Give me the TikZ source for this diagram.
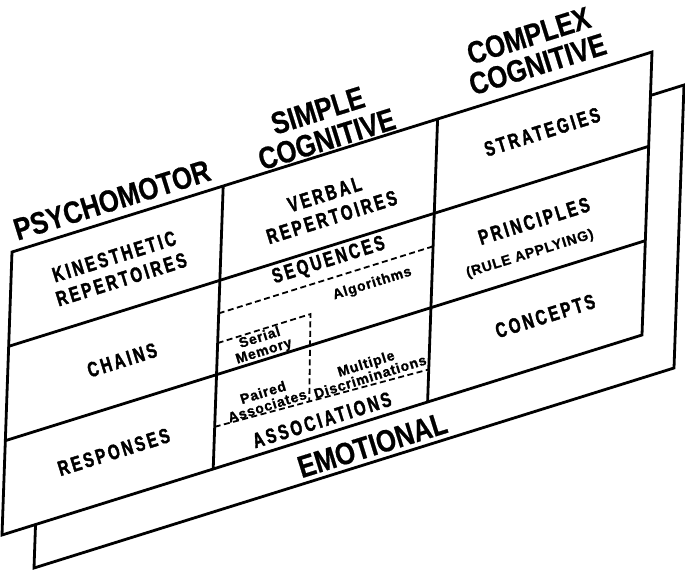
\documentclass[tikz,border=0pt]{standalone}
\usepackage{fontspec}
\newfontfamily\headfont[FakeStretch=0.83,BoldFeatures={FakeBold=0.6}]{Liberation Sans}
\newfontfamily\cellfont[FakeStretch=0.72,LetterSpace=13,BoldFeatures={FakeBold=1.8}]{Liberation Sans}
\newfontfamily\smallfont[LetterSpace=6,BoldFeatures={FakeBold=1.2}]{Liberation Sans}
\usetikzlibrary{calc}

\tikzset{
  head/.style={font=\headfont\bfseries\fontsize{31}{30}\selectfont, align=center, rotate=17.35, inner sep=0pt},
  cell/.style={font=\cellfont\bfseries\fontsize{21}{24}\selectfont, align=center, rotate=17.35, inner sep=0pt},
  tiny/.style={font=\smallfont\bfseries\fontsize{14}{14}\selectfont, align=center, rotate=17.35, inner sep=0pt},
  plane/.style={draw, line width=2.8pt, fill=white},
  grid/.style={line width=2.8pt},
  split/.style={line width=1.8pt, dash pattern=on 6pt off 3.5pt}
}

\begin{document}
\begin{tikzpicture}[x=1pt, y=1pt]
\useasboundingbox (0,0) rectangle (685,-573);

%emotional plane, behind
\begin{scope}[shift={(44,-285)}, x={(640pt,200pt)}, y={(-10pt,-283pt)}]
  \path (0,0) coordinate (eTL) (1,0) coordinate (eTR) (1,1) coordinate (eBR) (0,1) coordinate (eBL);
  \draw[plane] (eTL) -- (eTR) -- (eBR) -- (eBL) -- cycle;
\end{scope}

%front plane
\begin{scope}[shift={(12,-252)}, x={(640pt,200pt)}, y={(-10pt,-283pt)}]
  \path (0,0) coordinate (TL) (1,0) coordinate (TR) (1,1) coordinate (BR) (0,1) coordinate (BL);
  \draw[plane] (TL) -- (TR) -- (BR) -- (BL) -- cycle;
  \path (0.33,0) coordinate (A1) (0.33,1) coordinate (A2);
  \path (0.665,0) coordinate (B1) (0.665,1) coordinate (B2);
  \draw[grid] (A1) -- (A2);
  \draw[grid] (B1) -- (B2);
  \path (0,1/3) coordinate (R1) (1,1/3) coordinate (S1);
  \path (0,2/3) coordinate (R2) (1,2/3) coordinate (S2);
  \draw[grid] (R1) -- (S1);
  \draw[grid] (R2) -- (S2);

  %simple cognitive subdivisions
  \path (0.33,0.45) coordinate (Q1) (0.665,0.45) coordinate (Q2);
  \draw[split] (Q1) -- (Q2);
  \path (0.33,0.555) coordinate (M1) (0.475,0.555) coordinate (M2) (0.478,0.866) coordinate (M3);
  \draw[split] (M1) -- (M2) -- (M3);
  \path (0.33,0.851) coordinate (P1) (0.665,0.885) coordinate (P2);
  \draw[split] (P1) -- (P2);

  %headings
  \node[head] (psy) at (0.155,-0.074) {PSYCHOMOTOR};
  \node[head] (simple) at (0.483,-0.108) {SIMPLE\\COGNITIVE};
  \node[head] (complex) at (0.812,-0.140) {COMPLEX\\COGNITIVE};
  \node[head] (emo) at (0.58,1.092) {EMOTIONAL};

  %cells
  \node[cell] (kin) at (0.168,0.175) {KINESTHETIC\\REPERTOIRES};
  \node[cell] (chains) at (0.18,0.509) {CHAINS};
  \node[cell] (resp) at (0.172,0.828) {RESPONSES};
  \node[cell] (verbal) at (0.497,0.188) {VERBAL\\REPERTOIRES};
  \node[cell] (seq) at (0.501,0.386) {SEQUENCES};
  \node[tiny] (algo) at (0.571,0.516) {Algorithms};
  \node[tiny] (serial) at (0.400,0.611) {Serial\\Memory};
  \node[tiny] (paired) at (0.408,0.808) {Paired\\Associates};
  \node[tiny] (multi) at (0.569,0.819) {Multiple\\Discriminations};
  \node[cell] (assoc) at (0.499,0.946) {ASSOCIATIONS};
  \node[cell] (strat) at (0.831,0.163) {STRATEGIES};
  \node[cell] (princ) at (0.823,0.472) {PRINCIPLES};
  \node[tiny] (rule) at (0.8185,0.5855) {(RULE APPLYING)};
  \node[cell] (conc) at (0.846,0.824) {CONCEPTS};
\end{scope}

\end{tikzpicture}
\end{document}
